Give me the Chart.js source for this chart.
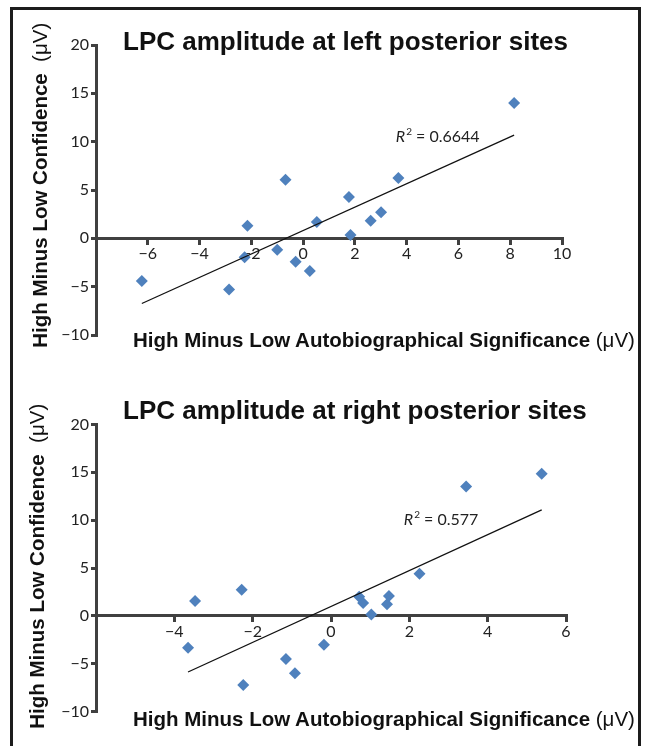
<!DOCTYPE html>
<html>
<head>
<meta charset="utf-8">
<script src="https://cdn.jsdelivr.net/npm/chart.js@4.4.1/dist/chart.umd.min.js"></script>
<style>
  html, body { margin: 0; padding: 0; background: #fff; }
  #page { position: relative; width: 651px; height: 746px; overflow: hidden; background: #fff; }
  #frame { position: absolute; left: 10px; top: 7px; width: 631px; height: 760px;
           border: 3px solid #1c1c1c; box-sizing: border-box; }
  canvas { position: absolute; left: 0; }
  .title { position: absolute; font: bold 26px "Liberation Sans", Arial, sans-serif; line-height: 26px;
           color: #111; white-space: nowrap; }
  .xtitle { position: absolute; font: bold 20.5px "Liberation Sans", Arial, sans-serif; line-height: 20.5px;
            color: #111; white-space: nowrap; }
  .ytitle { position: absolute; width: 330px; font: bold 20.5px "Liberation Sans", Arial, sans-serif;
            line-height: 20.5px; color: #111; white-space: nowrap; text-align: center;
            transform: rotate(-90deg); transform-origin: 50% 50%; }
  .unit { font-weight: normal; }
</style>
</head>
<body>
<div id="page">
  <div id="frame"></div>
  <canvas id="leftChart" width="651" height="373" style="top:0"></canvas>
  <canvas id="rightChart" width="651" height="373" style="top:373px"></canvas>

  <div class="title" style="left:123px; top:28px">LPC amplitude at left posterior sites</div>
  <div class="xtitle" style="left:133px; top:330px">High Minus Low Autobiographical Significance <span class="unit">(μV)</span></div>
  <div class="ytitle" style="left:-125px; top:175px">High Minus Low Confidence&nbsp; <span class="unit">(μV)</span></div>

  <div class="title" style="left:123px; top:397px">LPC amplitude at right posterior sites</div>
  <div class="xtitle" style="left:133px; top:709px">High Minus Low Autobiographical Significance <span class="unit">(μV)</span></div>
  <div class="ytitle" style="left:-128px; top:556px">High Minus Low Confidence&nbsp; <span class="unit">(μV)</span></div>
</div>

<script>
// left posterior sites
const leftX = [-6.23, -2.86, -2.26, -2.15, -1.0, -0.68, -0.29, 0.26, 0.53, 1.77, 1.83, 2.61, 3.01, 3.68, 8.15];
const leftY = [-4.41, -5.3, -1.96, 1.31, -1.17, 6.07, -2.41, -3.37, 1.69, 4.28, 0.35, 1.83, 2.69, 6.25, 14.0];
const leftR2 = "0.6644";
const leftXTicks = [-8, -6, -4, -2, 0, 2, 4, 6, 8, 10];
const leftXLabels = ["", "\u22126", "\u22124", "\u22122", "0", "2", "4", "6", "8", "10"];

// right posterior sites
const rightX = [-3.65, -3.47, -2.28, -2.24, -1.15, -0.92, -0.18, 0.72, 0.82, 1.03, 1.43, 1.48, 2.26, 3.45, 5.38];
const rightY = [-3.33, 1.55, 2.73, -7.23, -4.51, -6.01, -3.02, 2.0, 1.35, 0.15, 1.2, 2.07, 4.4, 13.53, 14.85];
const rightR2 = "0.577";
const rightXTicks = [-6, -4, -2, 0, 2, 4, 6];
const rightXLabels = ["", "\u22124", "\u22122", "0", "2", "4", "6"];

// shared y axis
const yTicks = [-10, -5, 0, 5, 10, 15, 20];
const yLabels = ["\u221210", "\u22125", "0", "5", "10", "15", "20"];

const axisColor = "#404040";
const pointColor = "#4F81BD";

// least squares line over the data range (Excel linear trendline)
function trendline(xs, ys) {
  const n = xs.length;
  const mx = xs.reduce((a, b) => a + b, 0) / n;
  const my = ys.reduce((a, b) => a + b, 0) / n;
  let sxy = 0, sxx = 0;
  for (let i = 0; i < n; i++) {
    sxy += (xs[i] - mx) * (ys[i] - my);
    sxx += (xs[i] - mx) * (xs[i] - mx);
  }
  const slope = sxy / sxx;
  const icpt = my - slope * mx;
  const x0 = Math.min(...xs), x1 = Math.max(...xs);
  return [{ x: x0, y: icpt + slope * x0 }, { x: x1, y: icpt + slope * x1 }];
}

const r2Plugin = {
  id: "r2label",
  afterDatasetsDraw(chart, args, opts) {
    const ctx = chart.ctx;
    const x = chart.scales.x.getPixelForValue(opts.at[0]);
    const y = chart.scales.y.getPixelForValue(opts.at[1]);
    ctx.save();
    ctx.fillStyle = "#222";
    ctx.textBaseline = "middle";
    ctx.textAlign = "left";
    ctx.font = "italic 16px Lato";
    ctx.fillText("R", x, y);
    let w = ctx.measureText("R").width + 1;
    ctx.font = "10px Lato";
    ctx.fillText("2", x + w, y - 5);
    w += ctx.measureText("2").width;
    ctx.font = "16px Lato";
    ctx.fillText(" = " + opts.value, x + w, y);
    ctx.restore();
  }
};

function renderChart(id, xs, ys, xTicks, xLabels, r2, r2At, padding) {
  const ctx = document.getElementById(id).getContext("2d");
  const points = xs.map((x, i) => ({ x: x, y: ys[i] }));
  new Chart(ctx, {
    type: "scatter",
    data: {
      datasets: [{
        type: "line",
        data: trendline(xs, ys),
        borderColor: "#111",
        borderWidth: 1.3,
        pointRadius: 0,
        fill: false
      }, {
        data: points,
        pointStyle: "rectRot",
        pointRadius: 6,
        pointBackgroundColor: pointColor,
        pointBorderColor: pointColor,
        pointBorderWidth: 0
      }]
    },
    options: {
      responsive: false,
      animation: false,
      events: [],
      layout: { padding: padding },
      plugins: {
        legend: { display: false },
        tooltip: { enabled: false },
        r2label: { at: r2At, value: r2 }
      },
      scales: {
        x: {
          type: "linear",
          position: { y: 0 },
          min: xTicks[0],
          max: xTicks[xTicks.length - 1],
          afterBuildTicks: (scale) => { scale.ticks = xTicks.map(v => ({ value: v })); },
          afterFit: (scale) => { scale.height = 0; },
          border: { display: true, color: axisColor, width: 3 },
          grid: { display: true, drawOnChartArea: false, drawTicks: true, tickLength: 5, color: axisColor, lineWidth: 3 },
          ticks: {
            autoSkip: false, maxRotation: 0, padding: 1, color: "#222",
            font: { family: "Lato", size: 16 },
            callback: (v) => xLabels[xTicks.indexOf(v)]
          }
        },
        y: {
          type: "linear",
          position: "left",
          min: yTicks[0],
          max: yTicks[yTicks.length - 1],
          afterBuildTicks: (scale) => { scale.ticks = yTicks.map(v => ({ value: v })); },
          afterFit: (scale) => { scale.width = 40; },
          border: { display: true, color: axisColor, width: 3 },
          grid: { display: true, drawOnChartArea: false, drawTicks: true, tickLength: 5, color: axisColor, lineWidth: 3 },
          ticks: {
            padding: 2, color: "#222",
            font: { family: "Lato", size: 16 },
            callback: (v) => yLabels[yTicks.indexOf(v)]
          }
        }
      }
    },
    plugins: [r2Plugin]
  });
}

function drawAll() {
  renderChart("leftChart", leftX, leftY, leftXTicks, leftXLabels, leftR2, [3.58, 10.55],
    { left: 56, right: 89, top: 45, bottom: 38 });
  renderChart("rightChart", rightX, rightY, rightXTicks, rightXLabels, rightR2, [1.86, 10.0],
    { left: 56, right: 85, top: 51.5, bottom: 34.5 });
}

Promise.all([
  document.fonts.load("16px Lato"),
  document.fonts.load("italic 16px Lato")
]).then(drawAll, drawAll);
</script>
</body>
</html>
